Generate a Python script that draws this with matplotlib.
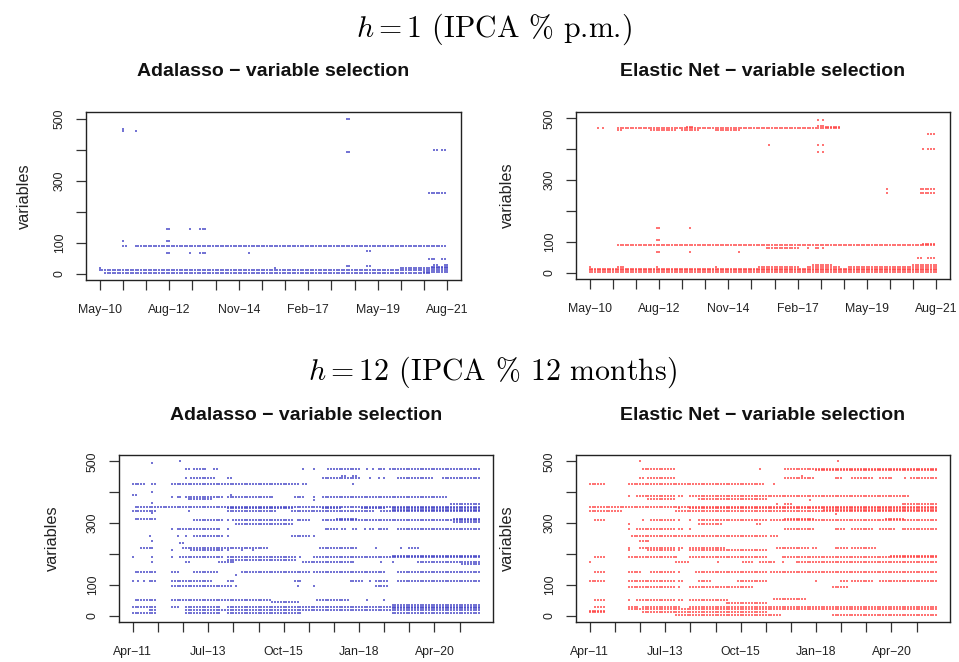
import matplotlib
matplotlib.use("Agg")
import matplotlib.pyplot as plt

plt.rcParams['font.family'] = ['Liberation Sans', 'DejaVu Sans']
plt.rcParams['mathtext.fontset'] = 'cm'

MINUS = "\u2212"

# Forecast origins (monthly): h=1 runs May-2010..Aug-2021, h=12 runs Apr-2011..Aug-2021
n_months_h1 = 136
n_months_h12 = 125
tick_every = 9
xlabels_h1 = ["May-10", "Aug-12", "Nov-14", "Feb-17", "May-19", "Aug-21"]
xlabels_h12 = ["Apr-11", "Jul-13", "Oct-15", "Jan-18", "Apr-20"]
yticks = [0, 100, 200, 300, 400, 500]
ytick_labels = ["0", "100", "", "300", "", "500"]

# Selected variables as runs: (variable index, first month, last month)
adalasso_h1 = [
    (90, 9, 10), (90, 14, 134),
    (12, 0, 135), (2, 2, 128),
    (18, 0, 0), (18, 68, 68), (18, 117, 135),
    (24, 96, 97), (24, 104, 105),
    (6, 126, 135), (22, 129, 135), (27, 130, 131), (27, 134, 135),
    (145, 26, 27), (145, 35, 35), (145, 39, 41),
    (106, 9, 9), (106, 26, 27),
    (66, 26, 27), (66, 35, 35), (66, 39, 41), (66, 58, 58),
    (74, 104, 105),
    (48, 128, 130), (48, 133, 134),
    (259, 128, 134),
    (400, 130, 131), (400, 133, 134),
    (497, 96, 97), (391, 96, 97),
    (466, 9, 9), (460, 9, 9), (460, 14, 14),
]

elasticnet_h1 = [
    (90, 11, 134), (95, 130, 134),
    (82, 69, 81), (82, 85, 85), (82, 88, 89), (82, 91, 91),
    (145, 26, 27), (145, 39, 39),
    (106, 26, 27),
    (66, 26, 27), (66, 39, 39), (66, 58, 58),
    (48, 128, 129), (48, 132, 134),
    (2, 0, 135), (8, 0, 135), (14, 0, 135),
    (20, 0, 0), (20, 11, 13), (20, 26, 26), (20, 49, 49), (20, 66, 81),
    (20, 85, 97), (20, 101, 135), (25, 87, 94), (25, 126, 135),
    (469, 3, 3), (469, 5, 5), (469, 11, 97),
    (462, 11, 12), (462, 24, 33), (462, 36, 42), (462, 49, 58),
    (474, 38, 40), (475, 89, 91), (472, 92, 97),
    (496, 89, 89), (496, 91, 91),
    (414, 70, 70), (414, 89, 89), (414, 91, 91),
    (391, 89, 89), (391, 91, 91),
    (449, 132, 134),
    (400, 130, 130), (400, 132, 134),
    (272, 116, 116), (272, 129, 134), (257, 116, 116), (257, 129, 134),
]

adalasso_h12 = [
    (500, 17, 17), (494, 7, 7),
    (476, 19, 20), (476, 22, 26), (476, 29, 30), (476, 61, 61), (476, 65, 65),
    (476, 70, 81), (476, 84, 84), (476, 86, 86), (476, 88, 90), (476, 92, 124),
    (447, 19, 19), (447, 21, 29), (447, 34, 35), (447, 68, 81), (447, 85, 85),
    (447, 88, 88), (447, 90, 90), (447, 95, 107), (447, 111, 124),
    (454, 75, 76), (454, 79, 80),
    (428, 0, 4), (428, 7, 8), (428, 14, 59), (428, 61, 62), (428, 79, 79),
    (400, 7, 7), (392, 0, 1), (392, 35, 35),
    (384, 14, 14), (384, 16, 17), (384, 19, 32), (384, 34, 50), (384, 58, 61),
    (384, 65, 65), (384, 68, 112),
    (378, 20, 28), (376, 65, 65), (365, 7, 7), (362, 114, 124),
    (354, 1, 124),
    (349, 34, 57), (349, 68, 74), (349, 82, 90), (349, 93, 124), (343, 93, 124),
    (340, 0, 8), (340, 20, 20), (340, 34, 51), (340, 57, 86), (340, 89, 124),
    (332, 7, 7), (313, 1, 8),
    (309, 22, 32), (309, 34, 34), (309, 36, 57), (309, 59, 63), (309, 68, 124),
    (314, 73, 80), (314, 115, 124), (304, 115, 124),
    (298, 37, 57),
    (281, 14, 14), (281, 16, 31), (281, 34, 34), (281, 69, 73), (281, 75, 76),
    (281, 79, 80), (281, 83, 83), (281, 85, 86), (281, 88, 91), (281, 95, 124),
    (260, 6, 6), (260, 16, 16), (260, 19, 19), (260, 22, 32), (260, 34, 34),
    (260, 57, 63), (260, 65, 65),
    (243, 7, 7), (235, 17, 18),
    (220, 3, 7), (220, 18, 48), (220, 67, 80), (220, 87, 87), (220, 96, 96), (220, 99, 102),
    (212, 14, 14), (212, 21, 32), (212, 34, 34), (212, 39, 39), (212, 43, 43),
    (189, 0, 0), (189, 7, 7), (189, 14, 14), (189, 17, 32), (189, 34, 58),
    (189, 60, 60), (189, 65, 124), (181, 34, 58), (194, 93, 124),
    (174, 7, 7), (174, 19, 20), (174, 31, 36), (174, 61, 79), (174, 89, 89),
    (174, 93, 93), (174, 102, 124), (169, 118, 124),
    (143, 1, 8), (143, 14, 16), (143, 22, 30), (143, 39, 63), (143, 65, 90), (143, 95, 124),
    (131, 37, 37),
    (113, 0, 0), (113, 2, 2), (113, 4, 4), (113, 6, 8), (113, 14, 28), (113, 34, 36),
    (113, 58, 60), (113, 78, 82), (113, 85, 85), (113, 87, 91), (113, 95, 124),
    (96, 14, 35), (96, 37, 37), (96, 59, 59), (96, 65, 65), (96, 87, 91),
    (52, 1, 8), (52, 14, 49), (52, 66, 77), (52, 84, 84), (52, 90, 90), (44, 50, 59),
    (30, 0, 8), (30, 14, 16), (30, 19, 31), (30, 34, 124), (36, 93, 124), (25, 93, 124),
    (19, 6, 8), (19, 19, 124),
    (10, 0, 8), (10, 19, 31), (10, 34, 60), (10, 93, 124),
]

elasticnet_h12 = [
    (500, 18, 18), (500, 89, 89),
    (476, 19, 30), (476, 61, 61), (476, 70, 124), (472, 81, 124),
    (447, 18, 19), (447, 21, 30), (447, 70, 80), (447, 88, 90), (447, 94, 101),
    (447, 104, 108), (447, 113, 113), (447, 115, 124), (452, 76, 76),
    (428, 0, 5), (428, 14, 62), (428, 66, 66),
    (387, 14, 14), (387, 17, 30), (387, 32, 33), (387, 36, 114),
    (378, 21, 30), (378, 39, 63), (376, 79, 79),
    (363, 67, 67), (363, 70, 72), (363, 112, 124),
    (354, 0, 124),
    (349, 32, 32), (349, 36, 124), (343, 84, 124),
    (338, 0, 11), (338, 31, 124),
    (330, 88, 88),
    (309, 2, 5), (309, 19, 19), (309, 22, 30), (309, 32, 32), (309, 36, 36),
    (309, 39, 63), (309, 65, 124), (314, 70, 80), (314, 106, 112),
    (297, 14, 14), (297, 39, 47), (297, 60, 61),
    (281, 14, 14), (281, 17, 30), (281, 32, 33), (281, 36, 36), (281, 70, 80),
    (281, 88, 91), (281, 94, 101), (281, 104, 109), (281, 112, 124),
    (260, 15, 63), (260, 65, 67),
    (241, 18, 21),
    (221, 14, 14), (221, 18, 30), (221, 32, 33), (221, 36, 48), (221, 67, 78),
    (221, 80, 81), (221, 88, 92), (221, 94, 102),
    (212, 14, 14), (212, 21, 30), (212, 32, 32), (212, 36, 63),
    (189, 2, 5), (189, 14, 31), (189, 36, 63), (189, 69, 124), (194, 108, 124),
    (173, 0, 0), (173, 31, 35), (173, 46, 46), (173, 55, 58), (173, 61, 66),
    (173, 69, 69), (173, 74, 124),
    (141, 2, 5), (141, 14, 18), (141, 22, 30), (141, 32, 32), (141, 38, 63), (141, 65, 124),
    (113, 0, 5), (113, 14, 30), (113, 32, 33), (113, 39, 43), (113, 53, 63),
    (113, 81, 81), (113, 90, 92), (113, 94, 101), (113, 104, 124),
    (95, 14, 30), (95, 32, 32), (95, 36, 58), (95, 87, 92),
    (50, 2, 5), (50, 14, 14), (50, 17, 30), (50, 32, 33), (50, 36, 49),
    (41, 49, 63), (55, 66, 77),
    (30, 2, 5), (30, 14, 17), (30, 19, 32), (30, 36, 124),
    (22, 14, 124), (16, 0, 5),
    (12, 0, 5), (12, 19, 63),
    (3, 31, 68), (3, 87, 124),
]


def expand(runs):
    xs, ys = [], []
    for var, first, last in runs:
        for m in range(first, last + 1):
            xs.append(m)
            ys.append(var)
    return xs, ys


def draw_panel(rect, runs, n, xlabels, color, title, ylab_x):
    ax = fig.add_axes(rect)
    xs, ys = expand(runs)
    ax.scatter(xs, ys, s=0.6, marker='s', c=color, linewidths=0, alpha=0.75)
    span = n - 1
    ax.set_xlim(-0.04 * span, span * 1.04)
    ax.set_ylim(-20, 521)
    ticks = list(range(0, n, tick_every))
    labs = []
    k = 0
    for j, _ in enumerate(ticks):
        if j % 3 == 0 and k < len(xlabels):
            labs.append(xlabels[k].replace("-", MINUS))
            k += 1
        else:
            labs.append("")
    ax.set_xticks(ticks)
    ax.set_xticklabels(labs, fontsize=8.8, color='#222222')
    ax.set_yticks(yticks)
    ax.set_yticklabels(ytick_labels, fontsize=8.8, color='#222222',
                       rotation=90, va='center')
    ax.tick_params(axis='x', length=7.5, width=0.9, color='#333333', pad=10)
    ax.tick_params(axis='y', length=7.5, width=0.9, color='#333333', pad=7)
    for sp in ax.spines.values():
        sp.set_linewidth(1.0)
        sp.set_color('#222222')
    ax.text(ylab_x, 0.5, "variables", transform=ax.transAxes, rotation=90,
            ha='center', va='center', fontsize=11.7, color='#222222')
    x0, y0, w, h = rect
    fig.text(x0 + w / 2, y0 + h + 40 / 662, title, ha='center', va='center',
             fontsize=14, fontweight='bold', color='#111111')
    return ax


W, H = 959, 662
fig = plt.figure(figsize=(W / 100, H / 100), dpi=100)


def rect_px(left, top, right, bottom):
    return [left / W, 1 - bottom / H, (right - left) / W, (bottom - top) / H]


blue = '#4646c6'
red = '#ff4545'
ada_title = "Adalasso " + MINUS + " variable selection"
enet_title = "Elastic Net " + MINUS + " variable selection"

draw_panel(rect_px(86, 112, 461, 280), adalasso_h1, n_months_h1, xlabels_h1,
           blue, ada_title, -0.165)
draw_panel(rect_px(576, 112, 950, 279), elasticnet_h1, n_months_h1, xlabels_h1,
           red, enet_title, -0.182)
draw_panel(rect_px(119, 455, 493, 622), adalasso_h12, n_months_h12, xlabels_h12,
           blue, ada_title, -0.179)
draw_panel(rect_px(576, 455, 950, 622), elasticnet_h12, n_months_h12, xlabels_h12,
           red, enet_title, -0.182)

fig.text(494 / W, 1 - 29 / H, "$h = 1$ (IPCA % p.m.)", family='cmr10',
         ha='center', va='center', fontsize=21.5)
fig.text(492 / W, 1 - 372 / H, "$h = 12$ (IPCA % 12 months)", family='cmr10',
         ha='center', va='center', fontsize=21.5)

fig.savefig("out.png", dpi=100, facecolor='white')
